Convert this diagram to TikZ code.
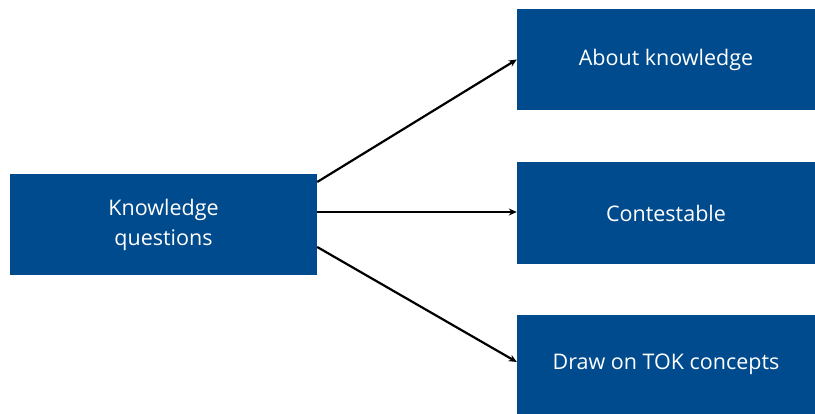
\documentclass[tikz,border=0pt]{standalone}
\usepackage{fontspec}
\setmainfont{Open Sans}
\usetikzlibrary{arrows.meta}
\definecolor{tokblue}{RGB}{0,75,141}
\tikzset{ box/.style = { rectangle % blue box
, fill = tokblue
, text = white
, align = center
, inner sep = 0pt
, minimum width = 298pt
, minimum height = 101pt
, font = \fontsize{21.5}{30}\selectfont
}
, link/.style = { line width = 2.2pt % arrow
, -{Stealth[length=8pt,width=7pt]}
}
}

\begin{document}
\begin{tikzpicture}[x=1pt, y=1pt]
                    \useasboundingbox (0,0) rectangle (815,414);
                    \node[box, minimum width=307pt] (kq) at (163.5,189) {Knowledge\\questions};
                    \node[box] (about) at (666,354.5) {About knowledge};
                    \node[box, minimum height=102pt] (contest) at (666,201) {Contestable};
                    \node[box, minimum height=99pt] (concepts) at (666,49.5) {Draw on TOK concepts};

                    \draw[link] ([yshift=43pt]kq.east) -- (about.west);
                    \draw[link] ([yshift=13pt]kq.east) -- (contest.west |- 0,202);
                    \draw[link] ([yshift=-22pt]kq.east) -- ([yshift=2.5pt]concepts.west);
                \end{tikzpicture}
\end{document}
